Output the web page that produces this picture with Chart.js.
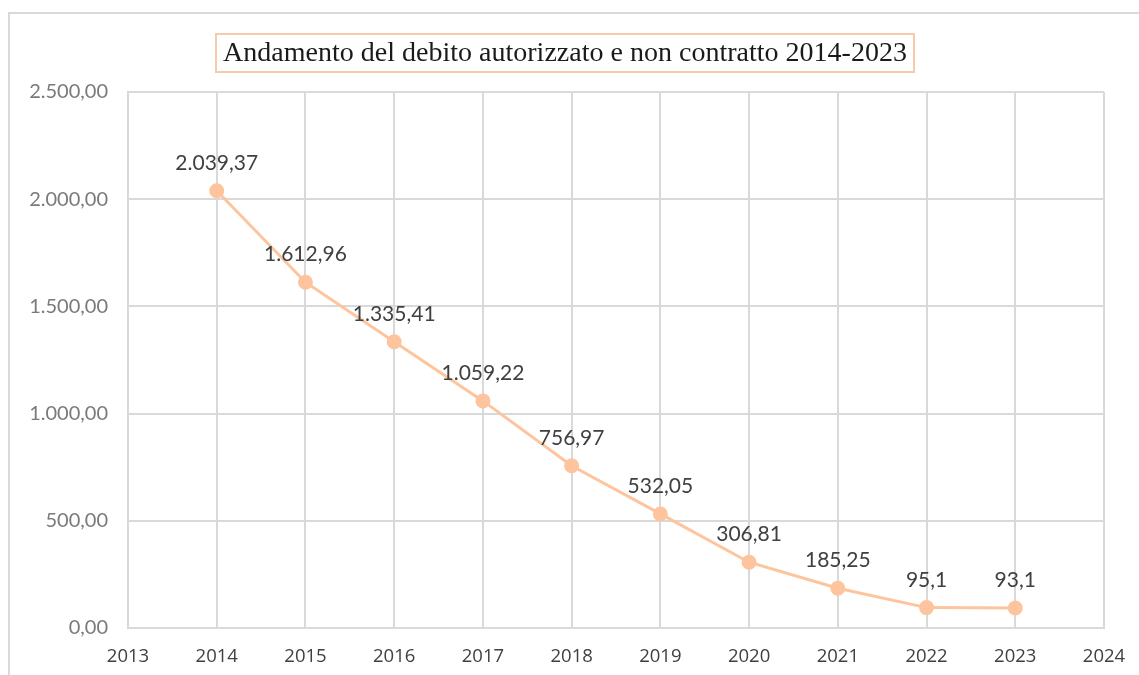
<!DOCTYPE html>
<html>
<head>
<meta charset="utf-8">
<script src="https://cdn.jsdelivr.net/npm/chart.js@4"></script>
<style>
  html, body { margin: 0; padding: 0; background: #fff; }
  #wrap { width: 1139px; height: 675px; position: relative; }
</style>
</head>
<body>
<div id="wrap"><canvas id="chart" width="1139" height="675"></canvas></div>
<script>
  const TITLE = "Andamento del debito autorizzato e non contratto 2014-2023";
  const YEARS = [2014, 2015, 2016, 2017, 2018, 2019, 2020, 2021, 2022, 2023];
  const DEBITO = [2039.37, 1612.96, 1335.41, 1059.22, 756.97, 532.05, 306.81, 185.25, 95.1, 93.1];
  const X_MIN = 2013, X_MAX = 2024;
  const Y_MIN = 0, Y_MAX = 2500, Y_STEP = 500;

  const PEACH = "#FDC49D";
  const GRID = "#d9d9d9";

  // numero all'italiana: 2.039,37
  function fmtIt(v, minDec, maxDec){
    let s = v.toFixed(maxDec);
    let [int, dec] = s.split(".");
    if (dec){
      while (dec.length > minDec && dec.endsWith("0")) dec = dec.slice(0, -1);
    }
    int = int.replace(/\B(?=(\d{3})+(?!\d))/g, ".");
    return dec ? `${int},${dec}` : int;
  }

  const framePlugin = {
    id: "frame",
    beforeDraw(chart){
      const ctx = chart.ctx;
      ctx.save();
      ctx.strokeStyle = GRID;
      ctx.lineWidth = 2;
      ctx.strokeRect(9, 13, 1300, 800);
      ctx.restore();
    },
    afterDraw(chart){
      const ctx = chart.ctx;
      ctx.save();
      // titolo in riquadro
      const bx = 216, by = 34, bw = 698, bh = 38;
      ctx.fillStyle = "#fff";
      ctx.fillRect(bx, by, bw, bh);
      ctx.strokeStyle = "#F9C9AB";
      ctx.lineWidth = 2;
      ctx.strokeRect(bx, by, bw, bh);
      let size = 24;
      ctx.font = `${size}px "Liberation Serif", serif`;
      const w = ctx.measureText(TITLE).width;
      size = size * 684 / w;
      ctx.font = `${size}px "Liberation Serif", serif`;
      ctx.fillStyle = "#1a1a1a";
      ctx.textAlign = "center";
      ctx.textBaseline = "middle";
      ctx.fillText(TITLE, bx + bw / 2, by + bh / 2 + 1);

      // etichette dati
      const meta = chart.getDatasetMeta(0);
      ctx.font = '21px Lato, "Open Sans", sans-serif';
      ctx.fillStyle = "#404040";
      ctx.textBaseline = "alphabetic";
      meta.data.forEach((pt, i) => {
        ctx.fillText(fmtIt(DEBITO[i], 0, 2), pt.x, pt.y - 21);
      });
      ctx.restore();
    }
  };

  new Chart(document.getElementById("chart"), {
    type: "line",
    data: {
      datasets: [{
        label: "Debito",
        data: YEARS.map((y, i) => ({ x: y, y: DEBITO[i] })),
        borderColor: PEACH,
        backgroundColor: PEACH,
        borderWidth: 3,
        pointRadius: 6,
        pointHoverRadius: 6,
        pointBackgroundColor: PEACH,
        pointBorderColor: PEACH,
        tension: 0
      }]
    },
    options: {
      responsive: false,
      animation: false,
      layout: { padding: { top: 92, right: 35, bottom: 0, left: 0 } },
      plugins: { legend: { display: false }, tooltip: { enabled: false }, title: { display: false } },
      scales: {
        x: {
          type: "linear",
          min: X_MIN, max: X_MAX,
          afterFit(s){ s.height = 47; s.paddingLeft = 0; s.paddingRight = 0; },
          ticks: {
            stepSize: 1,
            padding: 18,
            maxRotation: 0,
            color: "#404040",
            font: { size: 18.5, family: '"Open Sans", "DejaVu Sans", sans-serif' },
            callback: v => String(v)
          },
          grid: { color: GRID, lineWidth: 2, drawTicks: false },
          border: { color: GRID, width: 2 }
        },
        y: {
          min: Y_MIN, max: Y_MAX,
          afterFit(s){ s.width = 128; },
          ticks: {
            stepSize: Y_STEP,
            padding: 20,
            color: "#7a7a7a",
            font: { size: 20, family: 'Lato, "Open Sans", sans-serif' },
            callback: v => fmtIt(v, 2, 2)
          },
          grid: { color: GRID, lineWidth: 2, drawTicks: false },
          border: { color: GRID, width: 2 }
        }
      }
    },
    plugins: [framePlugin]
  });
</script>
</body>
</html>
